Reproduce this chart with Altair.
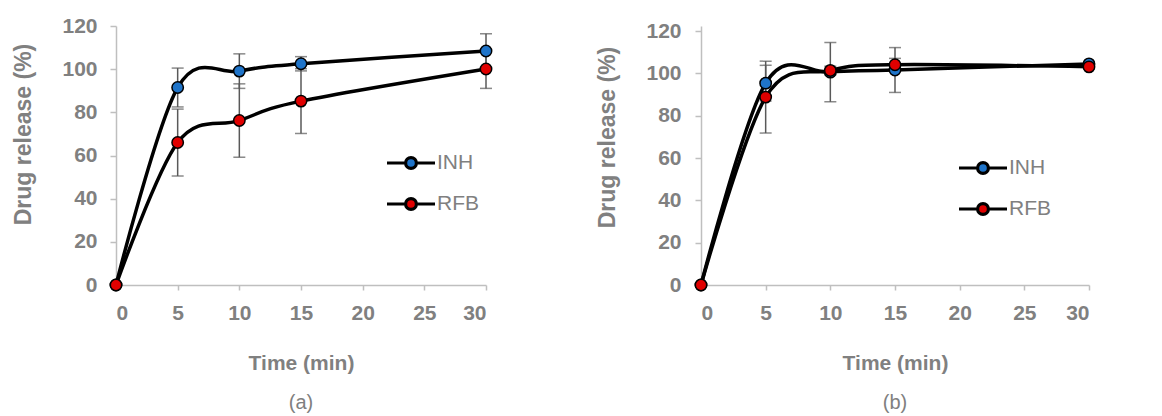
import altair as alt
import pandas as pd

time_min = [0, 5, 10, 15, 30]
series_names = ["INH", "RFB"]

# Panel (a)
a_inh = [0, 91.5, 99.1, 102.5, 108.4]
a_inh_err = [0, 9.0, 8.0, 3.3, 8.0]
a_rfb = [0, 66.0, 76.2, 85.2, 100.1]
a_rfb_err = [0, 15.5, 17.0, 15.0, 9.0]

# Panel (b)
b_inh = [0, 95.4, 100.6, 101.6, 104.5]
b_inh_err = [0, 8.4, 14.0, 10.6, 1.0]
b_rfb = [0, 88.8, 101.4, 104.1, 103.1]
b_rfb_err = [0, 17.0, 2.0, 3.0, 1.0]

y_ticks = [0, 20, 40, 60, 80, 100, 120]
x_ticks = [0, 5, 10, 15, 20, 25, 30]

FONT = "Liberation Sans"
GRAY = "#808080"
AXIS = "#bfbfbf"
ERR = "#595959"
COLORS = ["#1f74c9", "#e00000"]

# legend symbol: line with a circle in the middle (unit coords, scaled)
r = 0.36
LEG_PATH = (f"M-1.6,0L-{r},0M{r},0L1.6,0"
            f"M{r},0A{r},{r} 0 1,1 -{r},0A{r},{r} 0 1,1 {r},0Z")


def make_df(inh, inh_err, rfb, rfb_err):
    rows = []
    for name, vals, errs in [("INH", inh, inh_err), ("RFB", rfb, rfb_err)]:
        for t, v, e in zip(time_min, vals, errs):
            rows.append({"time": t, "release": v, "lo": v - e, "hi": v + e,
                         "series": name})
    return pd.DataFrame(rows)


def panel(df, label, width, height, ymax, leg_x, leg_y, title_y, lab_pad):
    xs = alt.Scale(domain=[0, 30], nice=False)
    ys = alt.Scale(domain=[0, ymax], nice=False)
    xax = alt.Axis(values=x_ticks, title="Time (min)", grid=False,
                   domainColor=AXIS, tickColor=AXIS, tickSize=5,
                   domainWidth=1.5, tickWidth=1.5,
                   labelFontSize=21, labelFontWeight="bold", labelColor=GRAY,
                   labelFont=FONT, labelPadding=12,
                   titleFontSize=21, titleFontWeight="bold", titleColor=GRAY,
                   titleFont=FONT, titlePadding=29)
    yax = alt.Axis(values=y_ticks, title="Drug release (%)", grid=False,
                   domainColor=AXIS, tickColor=AXIS, tickSize=6,
                   domainWidth=1.5, tickWidth=1.5,
                   labelFontSize=21, labelFontWeight="bold", labelColor=GRAY,
                   labelFont=FONT, labelPadding=lab_pad,
                   titleFontSize=23, titleFontWeight="bold", titleColor=GRAY,
                   titleFont=FONT, titlePadding=26, titleY=title_y)
    base = alt.Chart(df)
    lines = base.mark_line(interpolate="cardinal", color="black",
                           strokeWidth=3.5).encode(
        x=alt.X("time:Q", scale=xs, axis=xax),
        y=alt.Y("release:Q", scale=ys, axis=yax),
        detail="series:N",
    )
    errs = base.mark_errorbar(
        ticks={"size": 12, "thickness": 1.5, "color": ERR},
        rule={"strokeWidth": 1.5, "color": ERR},
    ).encode(
        x=alt.X("time:Q", scale=xs),
        y=alt.Y("lo:Q", scale=ys, title="Drug release (%)"),
        y2="hi:Q",
    ).transform_filter("datum.hi > datum.lo")
    pts = base.mark_point(filled=True, size=130, stroke="black",
                          strokeWidth=1.5, opacity=1, shape="circle").encode(
        x=alt.X("time:Q", scale=xs),
        y=alt.Y("release:Q", scale=ys, title="Drug release (%)"),
        fill=alt.Fill("series:N",
                      scale=alt.Scale(domain=series_names, range=COLORS),
                      legend=alt.Legend(
                          title=None, orient="none", legendX=leg_x,
                          legendY=leg_y, symbolType=LEG_PATH,
                          symbolSize=900, symbolStrokeColor="black",
                          symbolStrokeWidth=3.2, symbolOpacity=1,
                          labelFontSize=21, labelColor=GRAY, labelFont=FONT,
                          labelOffset=9, rowPadding=12, padding=0,
                      )),
    )
    return alt.layer(lines, errs, pts).properties(
        width=width, height=height,
        title=alt.TitleParams(label, orient="bottom", fontSize=20,
                              fontWeight="normal", color=GRAY, font=FONT,
                              offset=20),
    )


df_a = make_df(a_inh, a_inh_err, a_rfb, a_rfb_err)
df_b = make_df(b_inh, b_inh_err, b_rfb, b_rfb_err)

pa = panel(df_a, "(a)", 370, 259, 120, 278, 120, 108, 13)
pb = panel(df_b, "(b)", 388, 259, 122.4, 265, 125, 111, 14)

chart = alt.hconcat(pa, pb, spacing=101).resolve_scale(
    fill="independent"
).resolve_legend(fill="independent").properties(
    padding={"left": 4, "top": 7, "right": 5, "bottom": 5},
).configure_view(stroke=None)

chart.save("out.html", embed_options={"renderer": "svg", "actions": False})
